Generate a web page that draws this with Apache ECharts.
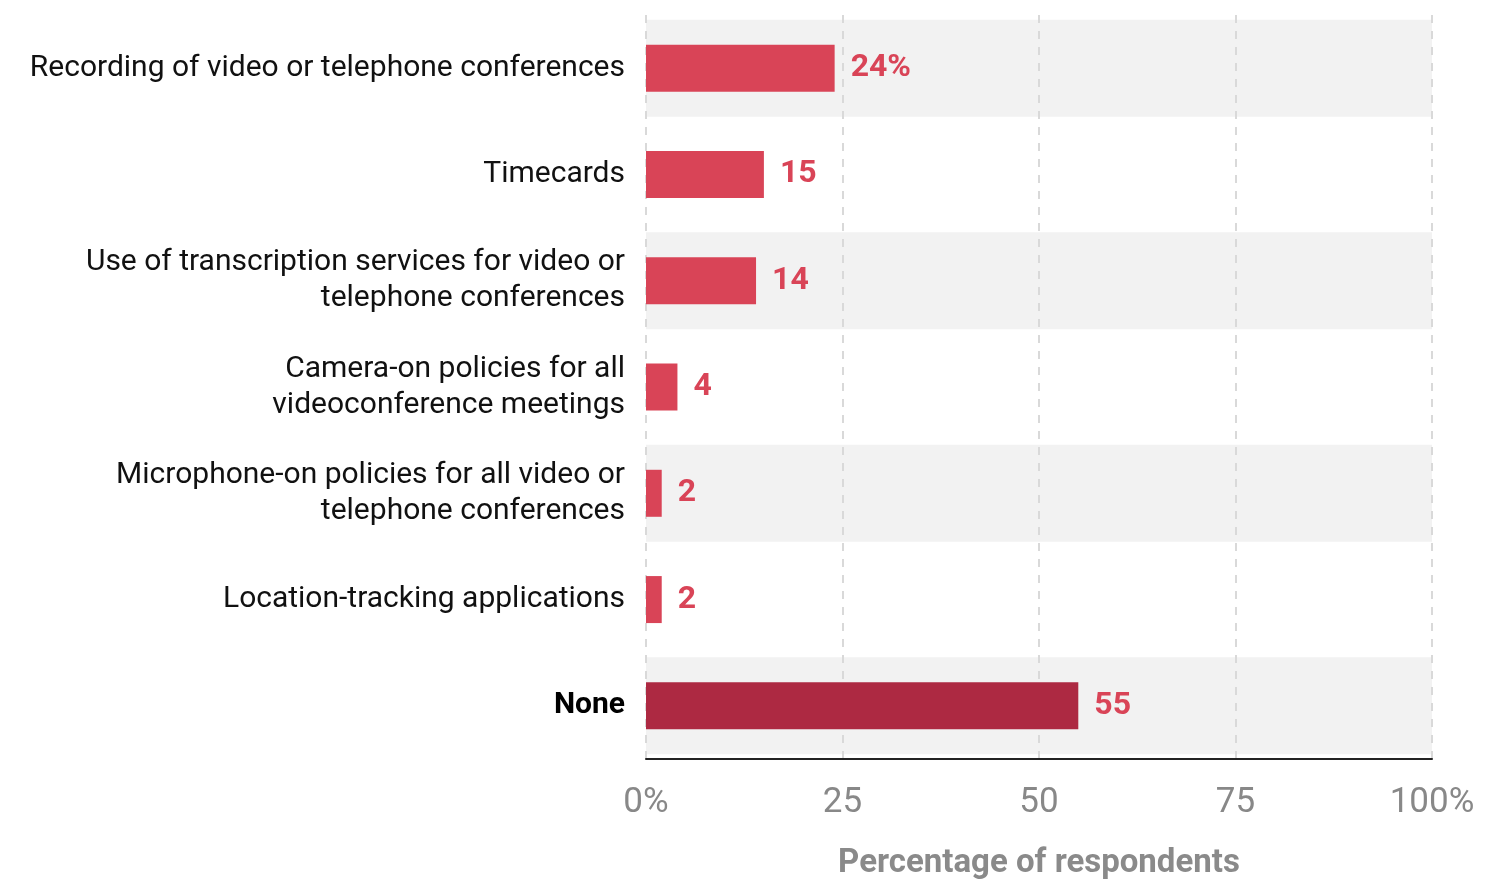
<!DOCTYPE html>
<html><head><meta charset="utf-8">
<script src="https://cdn.jsdelivr.net/npm/echarts@6/dist/echarts.min.js"></script>
<style>html,body{margin:0;padding:0;background:#fff}#c{width:1498px;height:889px}</style>
</head><body><div id="c"></div>
<script>
var categories = [
  "Recording of video or telephone conferences",
  "Timecards",
  "Use of transcription services for video or\ntelephone conferences",
  "Camera-on policies for all\nvideoconference meetings",
  "Microphone-on policies for all video or\ntelephone conferences",
  "Location-tracking applications",
  "None"
];
var values = [24, 15, 14, 4, 2, 2, 55];
var bandValues = [100, null, 100, null, 100, null, 100];
var tickLabels = {0: "0%", 25: "25", 50: "50", 75: "75", 100: "100%"};

var chart = echarts.init(document.getElementById('c'));
var font = 'Roboto, "Noto Sans", sans-serif';
chart.setOption({
  animation: false,
  grid: {left: 646, right: 66, top: 15, height: 744, containLabel: false},
  xAxis: {
    type: 'value', min: 0, max: 100, interval: 25, z: 1,
    axisLine: {show: true, lineStyle: {color: '#222', width: 2}},
    axisTick: {show: false},
    splitLine: {show: true, lineStyle: {color: '#d9d9d9', type: [8, 8], width: 2}},
    axisLabel: {color: '#888', fontSize: 35, fontFamily: font, margin: 27,
      formatter: function (v) { return tickLabels[v]; }},
    name: 'Percentage of respondents', nameLocation: 'middle', nameGap: 88,
    nameTextStyle: {color: '#8a8a8a', fontSize: 33, fontWeight: 'bold', fontFamily: font}
  },
  yAxis: [
    {
      type: 'category', data: categories, inverse: true,
      axisLine: {show: false}, axisTick: {show: false},
      axisLabel: {
        margin: 21, fontSize: 30, fontFamily: font, color: '#111', lineHeight: 36, align: 'right',
        formatter: function (v) { return v === 'None' ? '{b|' + v + '}' : v; },
        rich: {b: {fontWeight: 'bold', fontSize: 30, fontFamily: font, color: '#000'}}
      }
    },
    {
      type: 'category', data: categories, inverse: true, show: false
    }
  ],
  series: [
    {
      type: 'bar', yAxisIndex: 1, data: bandValues, barWidth: 97, z: 0, silent: true,
      itemStyle: {color: '#f2f2f2'}
    },
    {
      type: 'bar', yAxisIndex: 0, z: 2, barWidth: 47,
      data: values.map(function (v, i) {
        return {value: v, itemStyle: {color: categories[i] === 'None' ? '#ad2942' : '#d94457'}};
      }),
      label: {
        show: true, position: 'right', distance: 16, color: '#d94457',
        fontSize: 32, fontWeight: 'bold', fontFamily: font,
        formatter: function (p) { return p.dataIndex === 0 ? p.value + '%' : p.value; }
      }
    }
  ]
});
</script></body></html>
